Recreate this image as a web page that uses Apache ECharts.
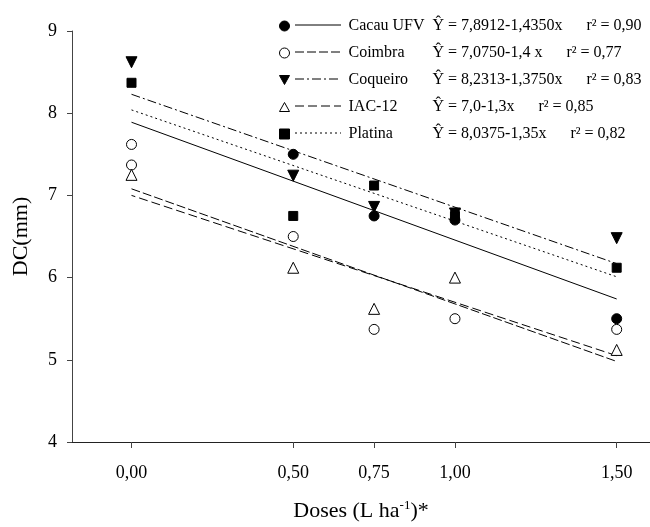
<!DOCTYPE html>
<html>
<head>
<meta charset="utf-8">
<script src="https://cdn.jsdelivr.net/npm/echarts@6/dist/echarts.min.js"></script>
<style>html,body{margin:0;padding:0;background:#fff}#c{width:650px;height:527px}</style>
</head>
<body>
<div id="c"></div>
<script>
// ---- data ----
const doses = [0, 0.5, 0.75, 1.0, 1.5];
const xTicks = [0, 0.5, 0.75, 1.0, 1.5];
const yTicks = [4, 5, 6, 7, 8, 9];

const seriesNames = ['Cacau UFV', 'Coimbra', 'Coqueiro', 'IAC-12', 'Platina'];
const cacauUFV = [7.62, 7.50, 6.75, 6.70, 5.50];
const coimbra  = [7.37, 6.50, 5.37, 5.50, 5.37];
const coqueiro = [8.62, 7.24, 6.86, 6.78, 6.48];
const iac12    = [7.25, 6.12, 5.62, 6.00, 5.12];
const platina  = [8.37, 6.75, 7.12, 6.75, 6.12];

// fitted lines: values at x = 0 and x = 1.5
const fitX = [0, 1.5];
const cacauFit    = [7.89, 5.74];
const coimbraFit  = [7.08, 4.98];
const coqueiroFit = [8.23, 6.17];
const iacFit      = [7.00, 5.05];
const platinaFit  = [8.04, 6.01];

const equations = ['Ŷ = 7,8912-1,4350x', 'Ŷ = 7,0750-1,4 x', 'Ŷ = 8,2313-1,3750x', 'Ŷ = 7,0-1,3x', 'Ŷ = 8,0375-1,35x'];
const r2Values = ['0,90', '0,77', '0,83', '0,85', '0,82'];

// ---- styles ----
const FONT = 'Liberation Serif';
const values = [cacauUFV, coimbra, coqueiro, iac12, platina];
const fits = [cacauFit, coimbraFit, coqueiroFit, iacFit, platinaFit];
const filled = {color: '#000', borderColor: '#000', borderWidth: 1, opacity: 1};
const open = {color: '#fff', borderColor: '#000', borderWidth: 1, opacity: 1};
const markerStyles = [
  {symbol: 'circle', size: 10, rotate: 0, item: filled, icon: 'circle'},
  {symbol: 'circle', size: 10, rotate: 0, item: open, icon: 'circle'},
  {symbol: 'triangle', size: 11, rotate: 180, item: filled, icon: 'path://M0,0 L10,0 L5,9 Z'},
  {symbol: 'triangle', size: 11, rotate: 0, item: open, icon: 'path://M5,0 L10,9 L0,9 Z'},
  {symbol: 'rect', size: 9, rotate: 0, item: filled, icon: 'rect'}
];
const dashes = ['solid', [9, 3], [9, 3, 2, 3], [9, 4], [2, 3]];
const dashOffsets = [0, 0, 0, 5, 0];

const series = [];
seriesNames.forEach((name, i) => {
  series.push({
    name: name + ' fit',
    type: 'line',
    data: fitX.map((x, k) => [x, fits[i][k]]),
    symbol: 'none',
    silent: true,
    z: 1,
    lineStyle: {color: '#000', width: 1, type: dashes[i], dashOffset: dashOffsets[i]}
  });
});
seriesNames.forEach((name, i) => {
  const m = markerStyles[i];
  series.push({
    name: name,
    type: 'scatter',
    symbol: m.symbol,
    symbolSize: m.size,
    symbolRotate: m.rotate,
    itemStyle: m.item,
    z: 3 + i,
    data: doses.map((x, k) => {
      const d = {value: [x, values[i][k]]};
      // the first Cacau UFV marker is drawn open in the reference
      if (i === 0 && k === 0) d.itemStyle = open;
      return d;
    })
  });
});

const rowY = [25, 52, 79, 106, 133];
const sampleLines = seriesNames.map((n, i) => ({
  type: 'line',
  shape: {x1: 295, y1: rowY[i], x2: 341, y2: rowY[i]},
  style: {stroke: '#000', lineWidth: 1, lineDash: dashes[i] === 'solid' ? null : dashes[i]}
}));

const chart = echarts.init(document.getElementById('c'), null, {renderer: 'canvas'});
chart.setOption({
  backgroundColor: '#fff',
  animation: false,
  textStyle: {fontFamily: FONT},
  grid: {left: 72, right: 0, top: 31, bottom: 82, containLabel: false},
  xAxis: {
    type: 'value',
    min: -0.184,
    max: 1.603,
    name: '{a|Doses (L ha}{s|-1}{a|)*}',
    nameLocation: 'middle',
    nameGap: 57,
    nameTextStyle: {
      rich: {
        a: {fontFamily: FONT, fontSize: 22, color: '#000', verticalAlign: 'bottom'},
        s: {fontFamily: FONT, fontSize: 13, color: '#000', verticalAlign: 'top', padding: [0, 0, 10, 0]}
      }
    },
    axisLine: {show: true, onZero: false, lineStyle: {color: '#222', width: 1}},
    axisTick: {show: true, customValues: xTicks, length: 6, inside: false, lineStyle: {color: '#444'}},
    axisLabel: {
      customValues: xTicks,
      margin: 22,
      fontFamily: FONT, fontSize: 18, color: '#000',
      formatter: v => v.toFixed(2).replace('.', ',')
    },
    splitLine: {show: false}
  },
  yAxis: {
    type: 'value',
    min: 4,
    max: 9,
    interval: 1,
    name: 'DC(mm)',
    nameLocation: 'middle',
    nameGap: 40,
    nameTextStyle: {fontFamily: FONT, fontSize: 22, color: '#000'},
    axisLine: {show: true, onZero: false, lineStyle: {color: '#444', width: 1}},
    axisTick: {show: true, length: 5, lineStyle: {color: '#444'}},
    axisLabel: {
      margin: 15,
      fontFamily: FONT, fontSize: 18, color: '#000',
      formatter: v => String(v)
    },
    splitLine: {show: false}
  },
  legend: {
    data: seriesNames.map((name, i) => ({
      name: name,
      icon: markerStyles[i].icon,
      itemStyle: markerStyles[i].item
    })),
    orient: 'vertical',
    left: 274,
    top: 13,
    itemWidth: 10,
    itemHeight: 10,
    itemGap: 11,
    selectedMode: false,
    formatter: name => {
      const i = seriesNames.indexOf(name);
      return '{sp| }{n|' + name + '}{e|' + equations[i] + '}{r|r² = ' + r2Values[i] + '}';
    },
    textStyle: {
      fontFamily: FONT, fontSize: 16, color: '#000',
      rich: {
        sp: {width: 54, fontFamily: FONT, fontSize: 16},
        n: {width: 84, fontFamily: FONT, fontSize: 16, color: '#000'},
        e: {fontFamily: FONT, fontSize: 16, color: '#000'},
        r: {fontFamily: FONT, fontSize: 16, color: '#000', padding: [0, 0, 0, 24]}
      }
    }
  },
  graphic: sampleLines,
  series: series
});
</script>
</body>
</html>
